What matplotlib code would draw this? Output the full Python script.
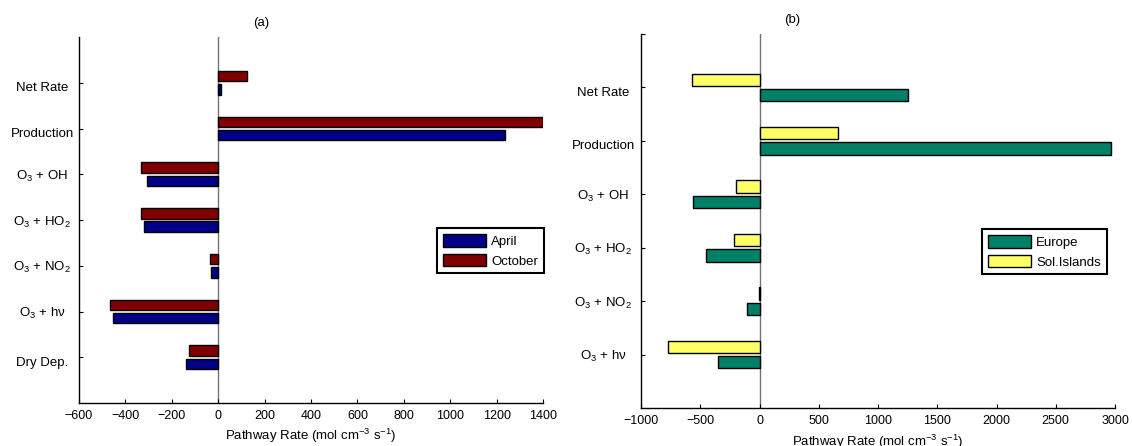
import matplotlib
matplotlib.use("Agg")
import matplotlib.pyplot as plt
from matplotlib.transforms import offset_copy
import numpy as np

plt.rcParams['font.family'] = ['Liberation Sans', 'DejaVu Sans']
plt.rcParams['mathtext.fontset'] = 'custom'
plt.rcParams['mathtext.rm'] = 'Liberation Sans'
plt.rcParams['mathtext.it'] = 'Liberation Sans:italic'
plt.rcParams['mathtext.bf'] = 'Liberation Sans:bold'

# ---------------- data ----------------
cats_a = ["Net Rate", "Production", "O$_3$ + OH", "O$_3$ + HO$_2$",
          "O$_3$ + NO$_2$", "O$_3$ + hν", "Dry Dep."]
april = [11, 1238, -308, -318, -32, -454, -137]
october = [123, 1400, -334, -334, -34, -466, -125]

cats_b = ["Net Rate", "Production", "O$_3$ + OH", "O$_3$ + HO$_2$",
          "O$_3$ + NO$_2$", "O$_3$ + hν"]
europe = [1255, 2969, -560, -452, -102, -348]
sol_islands = [-569, 662, -200, -218, -5, -772]

xticks_a = [-600, -400, -200, 0, 200, 400, 600, 800, 1000, 1200, 1400]
xticks_b = [-1000, -500, 0, 500, 1000, 1500, 2000, 2500, 3000]
xlabel = "Pathway Rate (mol cm$^{-3}$ s$^{-1}$)"

W, H = 1133, 446
fig = plt.figure(figsize=(W / 100, H / 100), dpi=100)


def fx(px):
    return px / W


def fy(py):
    return 1 - py / H


def make_panel(rect, cats, s_low, s_high, c_low, c_high, lab_low, lab_high,
               xlim, xticks, ylim_top, extra_top_tick, legend_xy, title, title_xy,
               xlabel_y, label_dx):
    ax = fig.add_axes(rect)
    n = len(cats)
    pos = np.arange(n, 0, -1)  # top category at highest y
    h = 0.23
    off = 0.145
    ax.barh(pos - off, s_low, height=h, color=c_low, edgecolor='black',
            linewidth=1.0, label=lab_low, zorder=2)
    ax.barh(pos + off, s_high, height=h, color=c_high, edgecolor='black',
            linewidth=1.0, label=lab_high, zorder=2)
    ax.axvline(0, color='0.45', lw=1.0, zorder=1)
    ax.set_xlim(xlim)
    ax.set_ylim(0, ylim_top)
    ax.set_xticks(xticks)
    ax.set_xticklabels([("\u2212%d" % -t) if t < 0 else "%d" % t for t in xticks])
    yt = list(pos)
    if extra_top_tick:
        yt = yt + [ylim_top]
    ax.set_yticks(yt)
    ax.set_yticklabels([])
    for sp in ['top', 'right']:
        ax.spines[sp].set_visible(False)
    for sp in ['left', 'bottom']:
        ax.spines[sp].set_linewidth(1.0)
    ax.tick_params(axis='both', direction='in', length=3, width=0.8,
                   labelsize=9, pad=5)
    # category labels
    for p, c in zip(pos, cats):
        dy = -2 if '$' in c else -5.5
        tr = offset_copy(ax.get_yaxis_transform(), fig=fig, x=-label_dx, y=dy,
                         units='dots')
        ax.text(0, p, c, transform=tr, ha='center', va='center',
                fontsize=9.5, clip_on=False)
    leg = ax.legend(loc='upper left', bbox_to_anchor=(fx(legend_xy[0]), fy(legend_xy[1])),
                    bbox_transform=fig.transFigure, fontsize=9.5, fancybox=False,
                    framealpha=1, edgecolor='black', handlelength=3.3,
                    handleheight=1.1, handletextpad=0.35, labelspacing=0.45,
                    borderpad=0.45, borderaxespad=0)
    leg.get_frame().set_linewidth(1.5)
    # reorder legend? keep low first (April / Europe), then high
    fig.text(fx(title_xy[0]), fy(title_xy[1]), title, ha='center', va='center',
             fontsize=9.5)
    cx = rect[0] + rect[2] / 2
    fig.text(cx, fy(xlabel_y), xlabel, ha='center', va='baseline', fontsize=9.5)
    return ax


# panel (a)
make_panel([fx(79), fy(403), fx(543) - fx(79), fy(37) - fy(403)],
           cats_a, april, october, (0, 0, 0.53), (0.5, 0, 0), "April", "October",
           (-600, 1400), xticks_a, 8, False, (437, 228), "(a)", (261, 23),
           440, 37)

# panel (b)
make_panel([fx(641), fy(408), fx(1115) - fx(641), fy(34) - fy(408)],
           cats_b, europe, sol_islands, (0, 0.5, 0.4), (1, 1, 0.4), "Europe",
           "Sol.Islands", (-1000, 3000), xticks_b, 7, True, (982, 229), "(b)",
           (792, 19.5), 446, 38)

fig.savefig("out.png", dpi=100)
